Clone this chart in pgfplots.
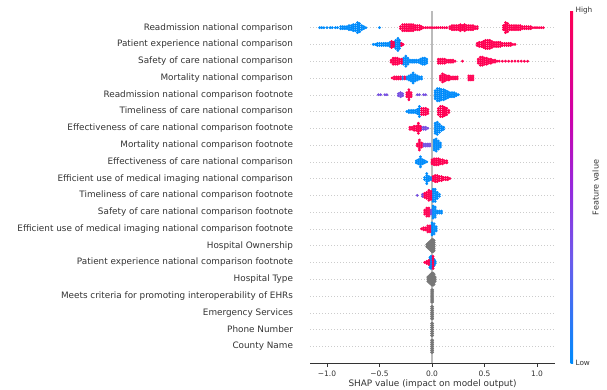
\documentclass[border=0pt]{standalone}
\usepackage{pgfplots}
\pgfplotsset{compat=1.18}
\usepackage{fontspec}
\setmainfont{DejaVu Sans}
\definecolor{shapblue}{RGB}{0,139,251}
\definecolor{shapred}{RGB}{255,0,82}
\definecolor{shappurple}{RGB}{118,80,225}
\definecolor{shapgrey}{RGB}{119,119,119}
\definecolor{axcol}{RGB}{51,51,51}
\pgfplotsset{beeswarm/.style={only marks, mark=*, mark size=1.15pt, color=#1, mark options={line width=0.5pt, draw=#1, fill=#1}}}
\begin{document}
\begin{tikzpicture}
\useasboundingbox (0pt,0pt) rectangle (607pt,389pt);
\begin{axis}[
  at={(310pt,26pt)}, anchor=south west,
  scale only axis, width=245pt, height=352.1pt,
  xmin=-1.162, xmax=1.171, ymin=-1, ymax=20,
  axis x line*=bottom, axis y line*=left,
  y axis line style={draw=none},
  x axis line style={axcol, line width=0.6pt},
  ytick={0,...,19},
  yticklabels={County Name, Phone Number, Emergency Services, Meets criteria for promoting interoperability of EHRs, Hospital Type, Patient experience national comparison footnote, Hospital Ownership, Efficient use of medical imaging national comparison footnote, Safety of care national comparison footnote, Timeliness of care national comparison footnote, Efficient use of medical imaging national comparison, Effectiveness of care national comparison, Mortality national comparison footnote, Effectiveness of care national comparison footnote, Timeliness of care national comparison, Readmission national comparison footnote, Mortality national comparison, Safety of care national comparison, Patient experience national comparison, Readmission national comparison},
  yticklabel style={font=\fontsize{8.85}{10}\selectfont, text=axcol, xshift=-10pt},
  y tick style={draw=none},
  ymajorgrids, major grid style={draw={rgb,255:red,204;green,204;blue,204}, line width=0.4pt, dash pattern=on 0.6pt off 2.4pt},
  xtick={-1,-0.5,0,0.5,1},
  xticklabels={−1.0,−0.5,0.0,0.5,1.0},
  x tick style={axcol, line width=0.6pt},
  tick align=outside, major tick length=3.5pt,
  xticklabel style={font=\fontsize{7.5}{9}\selectfont, text=axcol, yshift=-1pt},
  xlabel={SHAP value (impact on model output)},
  xlabel style={font=\fontsize{8.9}{10}\selectfont, text=axcol, yshift=3.5pt},
  colormap={shapmap}{rgb255(0cm)=(0,139,252); rgb255(3cm)=(110,90,235); rgb255(5cm)=(150,40,220); rgb255(7cm)=(205,0,170); rgb255(10cm)=(255,0,82)},
  colorbar, point meta min=0, point meta max=1,
  colorbar style={at={(parent axis.north east)}, anchor=north west, xshift=7pt, width=2.5pt,
    axis line style={draw=none}, ytick={0,1}, yticklabels={Low,High}, major tick length=0pt,
    yticklabel style={font=\fontsize{7.3}{8}\selectfont, text=axcol, xshift=-1pt}},
]
\addplot[draw={rgb,255:red,187;green,187;blue,187}, line width=1.1pt] coordinates {(0,-1) (0,20)};
% grey (no colour) features
\addplot[beeswarm=shapgrey] coordinates {
(-0.05,5.94)(-0.05,6.06)
(-0.04,5.88)(-0.04,6)(-0.04,6.12)
(-0.03,5.82)(-0.03,5.94)(-0.03,6.06)(-0.03,6.18)
(-0.02,5.76)(-0.02,5.88)(-0.02,6)(-0.02,6.12)(-0.02,6.24)
(-0.01,5.7)(-0.01,5.82)(-0.01,5.94)(-0.01,6.06)(-0.01,6.18)(-0.01,6.3)
(0.00,5.64)(0.00,5.76)(0.00,5.88)(0.00,6)(0.00,6.12)(0.00,6.24)(0.00,6.36)
(0.01,5.64)(0.01,5.76)(0.01,5.88)(0.01,6)(0.01,6.12)(0.01,6.24)(0.01,6.36)
(0.02,5.7)(0.02,5.82)(0.02,5.94)(0.02,6.06)(0.02,6.18)(0.02,6.3)
(-0.04,3.88)(-0.04,4)(-0.04,4.12)
(-0.03,3.82)(-0.03,3.94)(-0.03,4.06)(-0.03,4.18)
(-0.02,3.76)(-0.02,3.88)(-0.02,4)(-0.02,4.12)(-0.02,4.24)
(-0.01,3.7)(-0.01,3.82)(-0.01,3.94)(-0.01,4.06)(-0.01,4.18)(-0.01,4.3)
(0.00,3.64)(0.00,3.76)(0.00,3.88)(0.00,4)(0.00,4.12)(0.00,4.24)(0.00,4.36)
(0.01,3.64)(0.01,3.76)(0.01,3.88)(0.01,4)(0.01,4.12)(0.01,4.24)(0.01,4.36)
(0.02,3.7)(0.02,3.82)(0.02,3.94)(0.02,4.06)(0.02,4.18)(0.02,4.3)
(0.03,3.88)(0.03,4)(0.03,4.12)
(-0.004,2.64)(-0.004,2.76)(-0.004,2.88)(-0.004,3)(-0.004,3.12)(-0.004,3.24)(-0.004,3.36)
(0.006,2.64)(0.006,2.76)(0.006,2.88)(0.006,3)(0.006,3.12)(0.006,3.24)(0.006,3.36)
(-0.004,1.64)(-0.004,1.76)(-0.004,1.88)(-0.004,2)(-0.004,2.12)(-0.004,2.24)(-0.004,2.36)
(0.006,1.64)(0.006,1.76)(0.006,1.88)(0.006,2)(0.006,2.12)(0.006,2.24)(0.006,2.36)
(-0.004,0.64)(-0.004,0.76)(-0.004,0.88)(-0.004,1)(-0.004,1.12)(-0.004,1.24)(-0.004,1.36)
(0.006,0.64)(0.006,0.76)(0.006,0.88)(0.006,1)(0.006,1.12)(0.006,1.24)(0.006,1.36)
(-0.004,-0.36)(-0.004,-0.24)(-0.004,-0.12)(-0.004,0)(-0.004,0.12)(-0.004,0.24)(-0.004,0.36)
(0.006,-0.36)(0.006,-0.24)(0.006,-0.12)(0.006,0)(0.006,0.12)(0.006,0.24)(0.006,0.36)
};
% low feature values (blue)
\addplot[beeswarm=shapblue] coordinates {
(-1.07,19)(-1.05,19)(-1.03,19)(-1.00,19)(-0.97,19)(-0.95,19)(-0.92,19)(-0.90,19)
(-0.87,18.94)(-0.87,19.06)(-0.85,18.94)(-0.85,19.06)(-0.83,18.94)(-0.83,19.06)(-0.81,18.94)(-0.81,19.06)
(-0.79,18.88)(-0.79,19)(-0.79,19.12)(-0.77,18.88)(-0.77,19)(-0.77,19.12)
(-0.75,18.82)(-0.75,18.94)(-0.75,19.06)(-0.75,19.18)(-0.73,18.82)(-0.73,18.94)(-0.73,19.06)(-0.73,19.18)
(-0.71,18.7)(-0.71,18.82)(-0.71,18.94)(-0.71,19.06)(-0.71,19.18)(-0.71,19.3)
(-0.69,18.76)(-0.69,18.88)(-0.69,19)(-0.69,19.12)(-0.69,19.24)
(-0.67,18.88)(-0.67,19)(-0.67,19.12)
(-0.65,18.94)(-0.65,19.06)(-0.63,19)(-0.50,19)
(-0.56,18)(-0.54,18)
(-0.52,17.94)(-0.52,18.06)(-0.50,17.94)(-0.50,18.06)(-0.48,17.94)(-0.48,18.06)(-0.46,17.94)(-0.46,18.06)(-0.44,17.94)(-0.44,18.06)(-0.42,17.94)(-0.42,18.06)
(-0.40,17.88)(-0.40,18)(-0.40,18.12)(-0.38,17.88)(-0.38,18)(-0.38,18.12)(-0.36,17.88)(-0.36,18)(-0.36,18.12)
(-0.345,17.76)(-0.345,17.88)(-0.345,18)(-0.345,18.12)(-0.345,18.24)
(-0.325,17.64)(-0.325,17.76)(-0.325,17.88)(-0.325,18)(-0.325,18.12)(-0.325,18.24)(-0.325,18.36)
(-0.31,17.76)(-0.31,17.88)(-0.31,18)(-0.31,18.12)(-0.31,18.24)
(-0.27,16.82)(-0.27,16.94)(-0.27,17.06)(-0.27,17.18)
(-0.25,16.7)(-0.25,16.82)(-0.25,16.94)(-0.25,17.06)(-0.25,17.18)(-0.25,17.3)
(-0.23,16.82)(-0.23,16.94)(-0.23,17.06)(-0.23,17.18)
(-0.21,16.94)(-0.21,17.06)(-0.19,16.94)(-0.19,17.06)(-0.17,16.94)(-0.17,17.06)(-0.15,16.94)(-0.15,17.06)(-0.13,16.94)(-0.13,17.06)
(-0.11,16.88)(-0.11,17)(-0.11,17.12)
(-0.09,16.82)(-0.09,16.94)(-0.09,17.06)(-0.09,17.18)(-0.07,16.82)(-0.07,16.94)(-0.07,17.06)(-0.07,17.18)
(-0.05,16.88)(-0.05,17)(-0.05,17.12)
(-0.28,15.94)(-0.28,16.06)(-0.24,15.94)(-0.24,16.06)
(-0.22,15.88)(-0.22,16)(-0.22,16.12)
(-0.20,15.82)(-0.20,15.94)(-0.20,16.06)(-0.20,16.18)
(-0.18,15.7)(-0.18,15.82)(-0.18,15.94)(-0.18,16.06)(-0.18,16.18)(-0.18,16.3)
(-0.16,15.82)(-0.16,15.94)(-0.16,16.06)(-0.16,16.18)
(-0.14,15.88)(-0.14,16)(-0.14,16.12)
(-0.12,15.94)(-0.12,16.06)(-0.10,15.94)(-0.10,16.06)
(0.03,14.76)(0.03,14.88)(0.03,15)(0.03,15.12)(0.03,15.24)
(0.05,14.64)(0.05,14.76)(0.05,14.88)(0.05,15)(0.05,15.12)(0.05,15.24)(0.05,15.36)
(0.07,14.64)(0.07,14.76)(0.07,14.88)(0.07,15)(0.07,15.12)(0.07,15.24)(0.07,15.36)
(0.09,14.7)(0.09,14.82)(0.09,14.94)(0.09,15.06)(0.09,15.18)(0.09,15.3)
(0.11,14.7)(0.11,14.82)(0.11,14.94)(0.11,15.06)(0.11,15.18)(0.11,15.3)
(0.13,14.76)(0.13,14.88)(0.13,15)(0.13,15.12)(0.13,15.24)
(0.15,14.82)(0.15,14.94)(0.15,15.06)(0.15,15.18)
(0.17,14.88)(0.17,15)(0.17,15.12)(0.19,14.88)(0.19,15)(0.19,15.12)(0.21,14.88)(0.21,15)(0.21,15.12)
(0.23,14.94)(0.23,15.06)(0.25,15)
(-0.24,14)(-0.22,13.94)(-0.22,14.06)(-0.20,13.94)(-0.20,14.06)(-0.18,13.94)(-0.18,14.06)(-0.16,13.94)(-0.16,14.06)
(-0.14,13.88)(-0.14,14)(-0.14,14.12)
(-0.12,13.7)(-0.12,13.82)(-0.12,13.94)(-0.12,14.06)(-0.12,14.18)(-0.12,14.3)
(0.03,12.7)(0.03,12.82)(0.03,12.94)(0.03,13.06)(0.03,13.18)(0.03,13.3)
(0.05,12.64)(0.05,12.76)(0.05,12.88)(0.05,13)(0.05,13.12)(0.05,13.24)(0.05,13.36)
(0.07,12.76)(0.07,12.88)(0.07,13)(0.07,13.12)(0.07,13.24)
(0.09,12.88)(0.09,13)(0.09,13.12)
(0.11,12.94)(0.11,13.06)
(0.02,11.7)(0.02,11.82)(0.02,11.94)(0.02,12.06)(0.02,12.18)(0.02,12.3)
(0.04,11.64)(0.04,11.76)(0.04,11.88)(0.04,12)(0.04,12.12)(0.04,12.24)(0.04,12.36)
(0.06,11.76)(0.06,11.88)(0.06,12)(0.06,12.12)(0.06,12.24)
(0.08,11.88)(0.08,12)(0.08,12.12)
(-0.15,10.94)(-0.15,11.06)(-0.13,10.88)(-0.13,11)(-0.13,11.12)
(-0.11,10.7)(-0.11,10.82)(-0.11,10.94)(-0.11,11.06)(-0.11,11.18)(-0.11,11.3)
(-0.09,10.88)(-0.09,11)(-0.09,11.12)(-0.07,10.94)(-0.07,11.06)(-0.05,11)
(-0.07,9.94)(-0.07,10.06)
(-0.05,9.7)(-0.05,9.82)(-0.05,9.94)(-0.05,10.06)(-0.05,10.18)(-0.05,10.3)
(-0.03,9.88)(-0.03,10)(-0.03,10.12)(-0.01,9.94)(-0.01,10.06)
(0.01,8.64)(0.01,8.76)(0.01,8.88)(0.01,9)(0.01,9.12)(0.01,9.24)(0.01,9.36)
(0.03,8.64)(0.03,8.76)(0.03,8.88)(0.03,9)(0.03,9.12)(0.03,9.24)(0.03,9.36)
(0.05,8.82)(0.05,8.94)(0.05,9.06)(0.05,9.18)
(0.07,8.94)(0.07,9.06)
(0.01,7.64)(0.01,7.76)(0.01,7.88)(0.01,8)(0.01,8.12)(0.01,8.24)(0.01,8.36)
(0.03,7.7)(0.03,7.82)(0.03,7.94)(0.03,8.06)(0.03,8.18)(0.03,8.3)
(0.05,7.94)(0.05,8.06)(0.07,7.94)(0.07,8.06)(0.09,7.94)(0.09,8.06)
(0.00,6.64)(0.00,6.76)(0.00,6.88)(0.00,7)(0.00,7.12)(0.00,7.24)(0.00,7.36)
(0.02,6.7)(0.02,6.82)(0.02,6.94)(0.02,7.06)(0.02,7.18)(0.02,7.3)
(0.04,6.88)(0.04,7)(0.04,7.12)
(-0.02,4.7)(-0.02,4.82)(-0.02,4.94)(-0.02,5.06)(-0.02,5.18)(-0.02,5.3)
(-0.01,4.64)(-0.01,4.76)(-0.01,4.88)(-0.01,5)(-0.01,5.12)(-0.01,5.24)(-0.01,5.36)
(0.00,4.7)(0.00,4.82)(0.00,4.94)(0.00,5.06)(0.00,5.18)(0.00,5.3)
(0.02,4.82)(0.02,4.94)(0.02,5.06)(0.02,5.18)(0.03,4.94)(0.03,5.06)
};
% middle feature values (purple)
\addplot[beeswarm=shappurple] coordinates {
(-0.51,15)(-0.49,15)(-0.45,15)(-0.43,15)(-0.32,14.94)(-0.32,15.06)(-0.30,14.88)(-0.30,15)(-0.30,15.12)(-0.28,14.94)(-0.28,15.06)(-0.14,15)(-0.12,15)(-0.08,15)(-0.06,15)
(-0.10,12.94)(-0.10,13.06)(-0.08,12.94)(-0.08,13.06)(-0.06,12.94)(-0.06,13.06)(-0.04,13)
(-0.08,11.94)(-0.08,12.06)(-0.06,11.94)(-0.06,12.06)(-0.04,11.94)(-0.04,12.06)(-0.02,11.94)(-0.02,12.06)
(-0.14,9)(-0.09,8.94)(-0.09,9.06)
(-0.01,7.88)(-0.01,8)(-0.01,8.12)
};
% high feature values (red)
\addplot[beeswarm=shapred] coordinates {
(-0.30,18.94)(-0.30,19.06)
(-0.28,18.82)(-0.28,18.94)(-0.28,19.06)(-0.28,19.18)
(-0.26,18.82)(-0.26,18.94)(-0.26,19.06)(-0.26,19.18)
(-0.24,18.82)(-0.24,18.94)(-0.24,19.06)(-0.24,19.18)
(-0.22,18.82)(-0.22,18.94)(-0.22,19.06)(-0.22,19.18)
(-0.20,18.82)(-0.20,18.94)(-0.20,19.06)(-0.20,19.18)
(-0.18,18.82)(-0.18,18.94)(-0.18,19.06)(-0.18,19.18)
(-0.16,18.88)(-0.16,19)(-0.16,19.12)
(-0.14,18.88)(-0.14,19)(-0.14,19.12)
(-0.12,18.88)(-0.12,19)(-0.12,19.12)
(-0.10,18.94)(-0.10,19.06)
(-0.08,19)(-0.06,19)(-0.04,19)(-0.02,19)(0.00,19)(0.02,19)(0.04,19)(0.06,19)(0.08,19)(0.10,19)(0.12,19)(0.14,19)
(0.17,18.94)(0.17,19.06)
(0.19,18.88)(0.19,19)(0.19,19.12)
(0.21,18.88)(0.21,19)(0.21,19.12)
(0.23,18.88)(0.23,19)(0.23,19.12)
(0.25,18.88)(0.25,19)(0.25,19.12)
(0.27,18.82)(0.27,18.94)(0.27,19.06)(0.27,19.18)
(0.29,18.88)(0.29,19)(0.29,19.12)
(0.31,18.82)(0.31,18.94)(0.31,19.06)(0.31,19.18)
(0.33,18.88)(0.33,19)(0.33,19.12)
(0.35,18.88)(0.35,19)(0.35,19.12)
(0.37,18.88)(0.37,19)(0.37,19.12)
(0.39,18.88)(0.39,19)(0.39,19.12)
(0.41,18.94)(0.41,19.06)(0.43,18.94)(0.43,19.06)
(0.68,18.88)(0.68,19)(0.68,19.12)
(0.70,18.7)(0.70,18.82)(0.70,18.94)(0.70,19.06)(0.70,19.18)(0.70,19.3)
(0.72,18.76)(0.72,18.88)(0.72,19)(0.72,19.12)(0.72,19.24)
(0.74,18.88)(0.74,19)(0.74,19.12)
(0.76,18.88)(0.76,19)(0.76,19.12)
(0.78,18.88)(0.78,19)(0.78,19.12)
(0.80,18.88)(0.80,19)(0.80,19.12)
(0.82,18.88)(0.82,19)(0.82,19.12)
(0.84,18.88)(0.84,19)(0.84,19.12)
(0.86,18.94)(0.86,19.06)(0.88,18.94)(0.88,19.06)(0.90,18.94)(0.90,19.06)(0.92,18.94)(0.92,19.06)(0.94,18.94)(0.94,19.06)
(0.96,19)(0.98,19)(1.00,19)(1.02,19)(1.04,19)(1.06,19)
(-0.385,17.82)(-0.385,17.94)(-0.385,18.06)(-0.385,18.18)
(-0.365,17.88)(-0.365,18)(-0.365,18.12)
(-0.29,17.94)(-0.29,18.06)(-0.275,18)
(0.43,17.94)(0.43,18.06)
(0.45,17.88)(0.45,18)(0.45,18.12)
(0.47,17.88)(0.47,18)(0.47,18.12)
(0.49,17.82)(0.49,17.94)(0.49,18.06)(0.49,18.18)
(0.51,17.76)(0.51,17.88)(0.51,18)(0.51,18.12)(0.51,18.24)
(0.53,17.76)(0.53,17.88)(0.53,18)(0.53,18.12)(0.53,18.24)
(0.55,17.76)(0.55,17.88)(0.55,18)(0.55,18.12)(0.55,18.24)
(0.57,17.82)(0.57,17.94)(0.57,18.06)(0.57,18.18)
(0.59,17.88)(0.59,18)(0.59,18.12)(0.61,17.88)(0.61,18)(0.61,18.12)
(0.63,17.88)(0.63,18)(0.63,18.12)(0.65,17.88)(0.65,18)(0.65,18.12)
(0.67,17.94)(0.67,18.06)(0.69,17.94)(0.69,18.06)(0.71,17.94)(0.71,18.06)(0.73,17.94)(0.73,18.06)(0.75,17.94)(0.75,18.06)
(0.77,18)(0.79,18)
(-0.39,16.94)(-0.39,17.06)
(-0.37,16.82)(-0.37,16.94)(-0.37,17.06)(-0.37,17.18)
(-0.35,16.82)(-0.35,16.94)(-0.35,17.06)(-0.35,17.18)
(-0.33,16.82)(-0.33,16.94)(-0.33,17.06)(-0.33,17.18)
(-0.31,16.88)(-0.31,17)(-0.31,17.12)(-0.29,16.88)(-0.29,17)(-0.29,17.12)
(0.06,16.88)(0.06,17)(0.06,17.12)(0.08,16.88)(0.08,17)(0.08,17.12)
(0.10,16.88)(0.10,17)(0.10,17.12)(0.12,16.88)(0.12,17)(0.12,17.12)
(0.14,16.94)(0.14,17.06)(0.16,16.94)(0.16,17.06)(0.18,16.94)(0.18,17.06)(0.20,16.94)(0.20,17.06)
(0.22,17)(0.29,17)
(0.44,16.88)(0.44,17)(0.44,17.12)
(0.46,16.76)(0.46,16.88)(0.46,17)(0.46,17.12)(0.46,17.24)
(0.48,16.76)(0.48,16.88)(0.48,17)(0.48,17.12)(0.48,17.24)
(0.50,16.82)(0.50,16.94)(0.50,17.06)(0.50,17.18)
(0.52,16.82)(0.52,16.94)(0.52,17.06)(0.52,17.18)
(0.54,16.88)(0.54,17)(0.54,17.12)(0.56,16.88)(0.56,17)(0.56,17.12)
(0.58,16.94)(0.58,17.06)(0.60,16.94)(0.60,17.06)
(0.62,17)(0.64,17)(0.67,17)(0.70,17)(0.73,17)(0.76,17)(0.79,17)(0.82,17)(0.85,17)(0.88,17)(0.91,17)
(-0.38,16)(-0.36,15.94)(-0.36,16.06)(-0.34,15.94)(-0.34,16.06)(-0.32,15.94)(-0.32,16.06)(-0.30,15.94)(-0.30,16.06)
(-0.26,15.94)(-0.26,16.06)
(0.08,15.88)(0.08,16)(0.08,16.12)
(0.10,15.76)(0.10,15.88)(0.10,16)(0.10,16.12)(0.10,16.24)
(0.12,15.82)(0.12,15.94)(0.12,16.06)(0.12,16.18)
(0.14,15.88)(0.14,16)(0.14,16.12)(0.16,15.88)(0.16,16)(0.16,16.12)
(0.18,15.94)(0.18,16.06)(0.20,15.94)(0.20,16.06)(0.22,15.94)(0.22,16.06)(0.24,15.94)(0.24,16.06)
(0.35,15.88)(0.35,16)(0.35,16.12)(0.37,15.88)(0.37,16)(0.37,16.12)(0.39,15.88)(0.39,16)(0.39,16.12)
(-0.24,14.88)(-0.24,15)(-0.24,15.12)
(-0.22,14.7)(-0.22,14.82)(-0.22,14.94)(-0.22,15.06)(-0.22,15.18)(-0.22,15.3)
(-0.20,14.88)(-0.20,15)(-0.20,15.12)
(-0.10,13.82)(-0.10,13.94)(-0.10,14.06)(-0.10,14.18)
(-0.08,13.82)(-0.08,13.94)(-0.08,14.06)(-0.08,14.18)
(-0.06,13.82)(-0.06,13.94)(-0.06,14.06)(-0.06,14.18)
(-0.04,13.88)(-0.04,14)(-0.04,14.12)
(0.06,13.82)(0.06,13.94)(0.06,14.06)(0.06,14.18)
(0.08,13.7)(0.08,13.82)(0.08,13.94)(0.08,14.06)(0.08,14.18)(0.08,14.3)
(0.10,13.7)(0.10,13.82)(0.10,13.94)(0.10,14.06)(0.10,14.18)(0.10,14.3)
(0.12,13.76)(0.12,13.88)(0.12,14)(0.12,14.12)(0.12,14.24)
(0.14,13.82)(0.14,13.94)(0.14,14.06)(0.14,14.18)
(0.16,13.94)(0.16,14.06)
(-0.21,12.94)(-0.21,13.06)(-0.19,12.94)(-0.19,13.06)
(-0.17,12.88)(-0.17,13)(-0.17,13.12)(-0.15,12.88)(-0.15,13)(-0.15,13.12)
(-0.13,12.7)(-0.13,12.82)(-0.13,12.94)(-0.13,13.06)(-0.13,13.18)(-0.13,13.3)
(-0.11,12.88)(-0.11,13)(-0.11,13.12)
(-0.14,11.94)(-0.14,12.06)
(-0.12,11.7)(-0.12,11.82)(-0.12,11.94)(-0.12,12.06)(-0.12,12.18)(-0.12,12.3)
(-0.10,11.88)(-0.10,12)(-0.10,12.12)
(0.00,10.88)(0.00,11)(0.00,11.12)
(0.02,10.82)(0.02,10.94)(0.02,11.06)(0.02,11.18)
(0.04,10.82)(0.04,10.94)(0.04,11.06)(0.04,11.18)
(0.06,10.82)(0.06,10.94)(0.06,11.06)(0.06,11.18)
(0.08,10.88)(0.08,11)(0.08,11.12)(0.10,10.88)(0.10,11)(0.10,11.12)
(0.12,10.94)(0.12,11.06)(0.14,10.94)(0.14,11.06)
(0.01,9.88)(0.01,10)(0.01,10.12)
(0.03,9.82)(0.03,9.94)(0.03,10.06)(0.03,10.18)
(0.05,9.82)(0.05,9.94)(0.05,10.06)(0.05,10.18)
(0.07,9.88)(0.07,10)(0.07,10.12)(0.09,9.88)(0.09,10)(0.09,10.12)
(0.11,9.94)(0.11,10.06)(0.13,9.94)(0.13,10.06)(0.15,9.94)(0.15,10.06)(0.17,10)
(-0.07,8.88)(-0.07,9)(-0.07,9.12)
(-0.05,8.82)(-0.05,8.94)(-0.05,9.06)(-0.05,9.18)
(-0.03,8.7)(-0.03,8.82)(-0.03,8.94)(-0.03,9.06)(-0.03,9.18)(-0.03,9.3)
(-0.01,8.76)(-0.01,8.88)(-0.01,9)(-0.01,9.12)(-0.01,9.24)
(-0.07,7.88)(-0.07,8)(-0.07,8.12)
(-0.05,7.76)(-0.05,7.88)(-0.05,8)(-0.05,8.12)(-0.05,8.24)
(-0.03,7.76)(-0.03,7.88)(-0.03,8)(-0.03,8.12)(-0.03,8.24)
(-0.10,7)(-0.08,6.94)(-0.08,7.06)(-0.06,6.94)(-0.06,7.06)
(-0.04,6.82)(-0.04,6.94)(-0.04,7.06)(-0.04,7.18)
(-0.02,6.82)(-0.02,6.94)(-0.02,7.06)(-0.02,7.18)
(-0.07,5)(-0.05,4.94)(-0.05,5.06)(-0.03,4.88)(-0.03,5)(-0.03,5.12)
(0.01,4.64)(0.01,4.76)(0.01,4.88)(0.01,5)(0.01,5.12)(0.01,5.24)(0.01,5.36)
};
\end{axis}
\node[rotate=90, font=\fontsize{8.1}{9}\selectfont, text=axcol] at (595.5pt,201.5pt) {Feature value};
\end{tikzpicture}
\end{document}
